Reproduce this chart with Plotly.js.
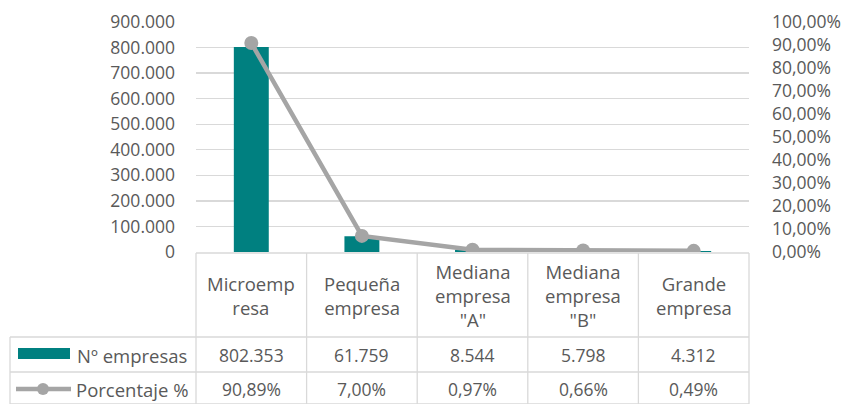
<!DOCTYPE html>
<html>
<head>
<meta charset="utf-8">
<script src="https://cdn.plot.ly/plotly-3.0.1.min.js"></script>
<style>
html,body{margin:0;padding:0;background:#fff;}
#chart{width:847px;height:404px;}
</style>
</head>
<body>
<div id="chart"></div>
<script>
// ---- data ----
var categories = ['Microempresa', 'Pequeña empresa', 'Mediana empresa "A"', 'Mediana empresa "B"', 'Grande empresa'];
var categoryLabels = ['Microemp<br>resa', 'Pequeña<br>empresa', 'Mediana<br>empresa<br>"A"', 'Mediana<br>empresa<br>"B"', 'Grande<br>empresa'];
var numEmpresas = [802353, 61759, 8544, 5798, 4312];
var porcentaje = [0.9089, 0.0700, 0.0097, 0.0066, 0.0049];
var seriesNames = ['Nº empresas', 'Porcentaje %'];

// ---- style ----
var FONT = 'Open Sans, Lato, sans-serif';
var FS = 17.5;     // numbers
var FSL = 18.5;    // words
var TXT = '#595959';
var GRID = '#D9D9D9';
var TEAL = '#008080';
var GRAY = '#A5A5A5';

var W = 847, H = 404;
var L = 196, R = 98, T = 22, B = 152;
var pw = W - L - R, ph = H - T - B;
function px(x){ return (x - L) / pw; }
function py(y){ return (T + ph - y) / ph; }

function fmtInt(v){
  return String(v).replace(/\B(?=(\d{3})+(?!\d))/g, '.');
}
function fmtPct(v){
  return (v * 100).toFixed(2).replace('.', ',') + '%';
}

var traces = [
  {
    type: 'bar', name: seriesNames[0], x: categories, y: numEmpresas,
    marker: {color: TEAL}, yaxis: 'y', hoverinfo: 'skip'
  },
  {
    type: 'scatter', mode: 'lines+markers', name: seriesNames[1],
    x: categories, y: porcentaje, yaxis: 'y2',
    line: {color: GRAY, width: 4.5}, marker: {color: GRAY, size: 14},
    hoverinfo: 'skip'
  }
];

var shapes = [];
var annotations = [];
var lineStyle = {color: GRID, width: 1.3};

// table borders
var yTop = 253, yRow1 = 337, yRow2 = 372, yBot = 404;
var colX = [];
for (var i = 0; i <= categories.length; i++) colX.push(L + pw * i / categories.length);
shapes.push({type: 'line', xref: 'paper', yref: 'paper', x0: px(L), x1: px(L + pw), y0: py(yTop), y1: py(yTop), line: lineStyle});
[yRow1, yRow2, yBot].forEach(function(y){
  shapes.push({type: 'line', xref: 'paper', yref: 'paper', x0: px(10), x1: px(L + pw), y0: py(y), y1: py(y), line: lineStyle});
});
colX.forEach(function(x){
  shapes.push({type: 'line', xref: 'paper', yref: 'paper', x0: px(x), x1: px(x), y0: py(yTop), y1: py(yBot), line: lineStyle});
});
shapes.push({type: 'line', xref: 'paper', yref: 'paper', x0: px(10), x1: px(10), y0: py(yRow1), y1: py(yBot), line: lineStyle});

// legend swatches
shapes.push({type: 'rect', xref: 'paper', yref: 'paper', x0: px(18), x1: px(70), y0: py(359), y1: py(348), fillcolor: TEAL, line: {width: 0}});
shapes.push({type: 'line', xref: 'paper', yref: 'paper', x0: px(16), x1: px(71), y0: py(389), y1: py(389), line: {color: GRAY, width: 4.5}});
shapes.push({type: 'circle', xref: 'paper', yref: 'paper', x0: px(37), x1: px(49), y0: py(395), y1: py(383), fillcolor: GRAY, line: {width: 0}});

// category labels
categories.forEach(function(c, i){
  annotations.push({xref: 'x', yref: 'paper', x: c, y: py((yTop + yRow1) / 2), text: categoryLabels[i],
    showarrow: false, xanchor: 'center', yanchor: 'middle', align: 'center', font: {family: FONT, size: FSL, color: TXT}});
  annotations.push({xref: 'x', yref: 'paper', x: c, y: py(355), text: fmtInt(numEmpresas[i]),
    showarrow: false, xanchor: 'center', yanchor: 'middle', font: {family: FONT, size: FS, color: TXT}});
  annotations.push({xref: 'x', yref: 'paper', x: c, y: py(389), text: fmtPct(porcentaje[i]),
    showarrow: false, xanchor: 'center', yanchor: 'middle', font: {family: FONT, size: FS, color: TXT}});
});
annotations.push({xref: 'paper', yref: 'paper', x: px(189), y: py(355), text: seriesNames[0],
  showarrow: false, xanchor: 'right', yanchor: 'middle', font: {family: FONT, size: FSL, color: TXT}});
annotations.push({xref: 'paper', yref: 'paper', x: px(190), y: py(389), text: seriesNames[1],
  showarrow: false, xanchor: 'right', yanchor: 'middle', font: {family: FONT, size: FSL, color: TXT}});

var layout = {
  width: W, height: H,
  margin: {l: L, r: R, t: T, b: B, pad: 0},
  paper_bgcolor: '#fff', plot_bgcolor: '#fff',
  separators: ',.',
  showlegend: false,
  bargap: 0.684,
  font: {family: FONT, size: FS, color: TXT},
  xaxis: {
    type: 'category', range: [-0.5, categories.length - 0.5],
    showticklabels: false, showgrid: false, zeroline: false, showline: false, ticks: ''
  },
  yaxis: {
    range: [0, 900000], dtick: 100000, tick0: 0, tickformat: ',d',
    showgrid: true, gridcolor: GRID, gridwidth: 1.3, zeroline: false, showline: false,
    ticks: '', ticklabelstandoff: 20, tickfont: {family: FONT, size: FS, color: TXT}
  },
  yaxis2: {
    overlaying: 'y', side: 'right', range: [0, 1], dtick: 0.1, tick0: 0, tickformat: '.2%',
    showgrid: false, zeroline: false, showline: false, ticks: '', ticklabelstandoff: 22,
    tickfont: {family: FONT, size: FS, color: TXT}
  },
  shapes: shapes,
  annotations: annotations
};

Plotly.newPlot('chart', traces, layout, {displayModeBar: false, staticPlot: true});
</script>
</body>
</html>
